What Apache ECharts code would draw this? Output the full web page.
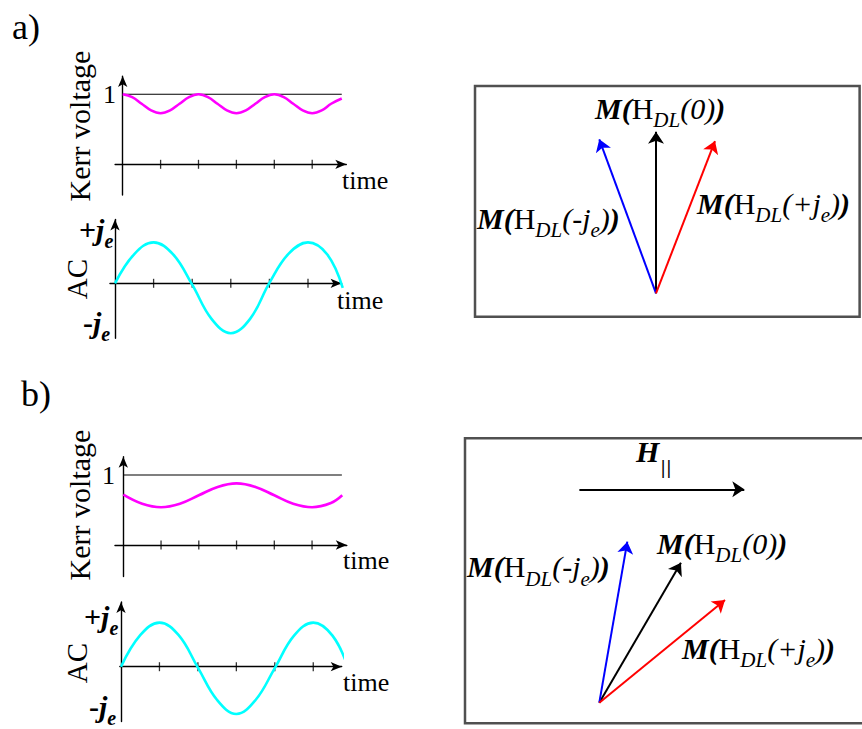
<!DOCTYPE html>
<html><head><meta charset="utf-8">
<script src="https://cdn.jsdelivr.net/npm/echarts@6/dist/echarts.min.js"></script>
<style>html,body{margin:0;padding:0;background:#fff}#c{width:862px;height:729px}</style>
</head><body><div id="c"></div>
<script>
// ---------------- data ----------------
// panel a) Kerr voltage (time in tick units, value normalised to the "1" line)
const kerrATime  = [0, 0.25, 0.5, 0.75, 1, 1.25, 1.5, 1.75, 2, 2.25, 2.5, 2.75, 3, 3.25, 3.5, 3.75, 4, 4.25, 4.5, 4.75, 5, 5.25, 5.5, 5.78];
const kerrAValue = [1.0, 0.96, 0.865, 0.77, 0.73, 0.77, 0.865, 0.96, 1.0, 0.96, 0.865, 0.77, 0.73, 0.77, 0.865, 0.96, 1.0, 0.96, 0.865, 0.77, 0.73, 0.77, 0.865, 0.94];
// panel a) AC current (units of j_e)
const acATime  = [0, 0.5, 1, 1.5, 2, 2.5, 3, 3.5, 4, 4.5, 5, 5.5, 5.9];
const acAValue = [0, 0.65, 0.91, 0.65, -0.03, -0.79, -1.11, -0.79, 0.01, 0.66, 0.91, 0.64, -0.1];
// panel b) Kerr voltage
const kerrBTime  = [0, 0.5, 1, 1.5, 2, 2.5, 3, 3.5, 4, 4.5, 5, 5.5, 5.8];
const kerrBValue = [0.72, 0.59, 0.54, 0.59, 0.71, 0.83, 0.88, 0.83, 0.71, 0.59, 0.54, 0.6, 0.71];
// panel b) AC current
const acBTime  = [0, 0.5, 1, 1.5, 2, 2.5, 3, 3.5, 4, 4.5, 5, 5.5, 5.91];
const acBValue = [0, 0.7, 0.98, 0.7, -0.02, -0.74, -1.05, -0.74, -0.03, 0.69, 0.98, 0.69, -0.03];
// time-axis ticks and the reference level "1"
const timeTicks = [1, 2, 3, 4, 5];
const refLevel = 1;
const refEndA = 5.78;
const refEndB = 5.79;
// magnetisation vectors (unit length = |M|), tail at the origin
const vecANames = ['M(H_DL(0))', 'M(H_DL(-j_e))', 'M(H_DL(+j_e))'];
const vecATips  = [[0, 1.0], [-0.351, 0.953], [0.365, 0.942]];
const vecBNames = ['M(H_DL(0))', 'M(H_DL(-j_e))', 'M(H_DL(+j_e))'];
const vecBTips  = [[0.504, 0.864], [0.173, 0.994], [0.776, 0.634]];
const fieldB    = [[-0.123, 1.317], [0.895, 1.317]];
// text
const yTitleKerr = 'Kerr voltage';
const yTitleAC = 'AC';
const xTitle = 'time';
const levelLabel = '1';

// ---------------- chart ----------------
const SERIF = "'Liberation Serif', 'Times New Roman', serif";
const SANS = "'DejaVu Sans', sans-serif";
const chart = echarts.init(document.getElementById('c'), null, {renderer: 'svg'});
const zip = (t, v) => t.map((x, i) => [x, v[i]]);

function gridFor(ox, oy, ux, uy, xr, yr, extra) {
  return Object.assign({
    left: ox + xr[0] * ux, top: oy - yr[1] * uy,
    width: (xr[1] - xr[0]) * ux, height: (yr[1] - yr[0]) * uy,
    containLabel: false, outerBoundsMode: 'none'
  }, extra || {});
}
const panels = [
  {o: [122.7, 164.3], u: [37.9, 70], x: [-0.2, 5.9], y: [-0.44, 1.26]},   // a Kerr
  {o: [115, 283.3], u: [38.6, 45], x: [-0.13, 5.87], y: [-1.22, 1.42]},   // a AC
  {o: [123.3, 545], u: [37.75, 70], x: [-0.22, 5.92], y: [-0.45, 1.26]},  // b Kerr
  {o: [121, 666.7], u: [38.45, 45], x: [-0.03, 5.74], y: [-1.22, 1.44]}   // b AC
];
const grids = panels.map(p => gridFor(p.o[0], p.o[1], p.u[0], p.u[1], p.x, p.y));
grids.push(gridFor(656, 293.3, 161.6, 161.6, [-1.12, 1.26], [-0.145, 1.283],
  {show: true, borderColor: '#505050', borderWidth: 2.5, backgroundColor: 'transparent'}));
grids.push(gridFor(599.3, 702.7, 162, 162, [-0.829, 1.66], [-0.127, 1.632],
  {show: true, borderColor: '#505050', borderWidth: 2.5, backgroundColor: 'transparent'}));

const axLine = {show: true, onZero: true, symbol: ['none', 'arrow'], symbolSize: [7, 11], lineStyle: {color: '#000', width: 1.4}};
const xAxes = [], yAxes = [];
panels.forEach((p, i) => {
  xAxes.push({type: 'value', gridIndex: i, min: p.x[0], max: p.x[1], axisLine: axLine,
    axisTick: {show: false}, axisLabel: {show: false}, splitLine: {show: false}});
  yAxes.push({type: 'value', gridIndex: i, min: p.y[0], max: p.y[1], axisLine: axLine,
    axisTick: {show: false}, axisLabel: {show: false}, splitLine: {show: false}});
});
[[[-1.12, 1.26], [-0.145, 1.283]], [[-0.829, 1.66], [-0.127, 1.632]]].forEach((r, k) => {
  xAxes.push({type: 'value', gridIndex: 4 + k, min: r[0][0], max: r[0][1], show: false});
  yAxes.push({type: 'value', gridIndex: 4 + k, min: r[1][0], max: r[1][1], show: false});
});

function curve(i, t, v, color) {
  return {type: 'line', xAxisIndex: i, yAxisIndex: i, data: zip(t, v), smooth: 0.4, showSymbol: false,
    clip: false, lineStyle: {color: color, width: 2.6}, z: 5, silent: true};
}
function refLine(i, end) {
  return {type: 'line', xAxisIndex: i, yAxisIndex: i, data: [[0, refLevel], [end, refLevel]], showSymbol: false,
    lineStyle: {color: '#000', width: 1.1}, z: 3, silent: true};
}
function ticks(i) {
  return {type: 'scatter', xAxisIndex: i, yAxisIndex: i, data: timeTicks.map(t => [t, 0]), symbol: 'rect',
    symbolSize: [1.3, 9], itemStyle: {color: '#000'}, z: 4, silent: true};
}
const vecColors = ['#000000', '#0000ff', '#ff0000'];
function vectors(i, tips) {
  return {type: 'lines', coordinateSystem: 'cartesian2d', xAxisIndex: i, yAxisIndex: i,
    symbol: ['none', 'arrow'], symbolSize: 12, silent: true, z: 6,
    data: tips.map((tp, k) => ({coords: [[0, 0], tp], lineStyle: {color: vecColors[k], width: 2, opacity: 1}}))};
}

const series = [
  refLine(0, refEndA), curve(0, kerrATime, kerrAValue, '#ff00ff'), ticks(0),
  curve(1, acATime, acAValue, '#00ffff'), ticks(1),
  refLine(2, refEndB), curve(2, kerrBTime, kerrBValue, '#ff00ff'), ticks(2),
  curve(3, acBTime, acBValue, '#00ffff'), ticks(3),
  vectors(4, vecATips),
  vectors(5, vecBTips),
  {type: 'lines', coordinateSystem: 'cartesian2d', xAxisIndex: 5, yAxisIndex: 5, symbol: ['none', 'arrow'],
   symbolSize: 12, silent: true, z: 6, data: [{coords: fieldB, lineStyle: {color: '#000', width: 2, opacity: 1}}]}
];

// ---------------- text ----------------
const KMID = 0.3375; // central baseline offset (em) for Liberation Serif
function plain(txt, x, y, fs, opts) {
  return Object.assign({type: 'text', x: x, y: y, z: 10, silent: true,
    style: Object.assign({text: txt, fontSize: fs, fontFamily: SERIF, fill: '#000', align: 'left', verticalAlign: 'middle'}, (opts && opts.style) || {})},
    opts && opts.rotation ? {rotation: opts.rotation} : {});
}
const measCtx = document.createElement('canvas').getContext('2d');
// pieces laid out left to right on a common baseline, each with its own font and vertical drop
function composite(x, baseline, pieces) {
  let cx = x;
  const out = [];
  pieces.forEach(p => {
    const fam = p.family || SERIF;
    const st = p.italic ? 'italic' : 'normal';
    const wt = p.bold ? 'bold' : 'normal';
    measCtx.font = st + ' ' + wt + ' ' + p.fs + 'px ' + fam;
    const w = measCtx.measureText(p.text).width;
    const k = p.family === SANS ? 0.346 : KMID;
    out.push({type: 'text', x: cx, y: baseline + (p.dy || 0) - k * p.fs, z: 10, silent: true,
      style: {text: p.text, fontSize: p.fs, fontFamily: fam, fontStyle: st, fontWeight: wt, fill: '#000',
              align: 'left', verticalAlign: 'middle'}});
    cx += w + (p.gap || 0);
  });
  return out;
}
const FS = 30, SFS = 21, DROP = 9;
function mPieces(name) {
  const inner = name.slice(name.indexOf('_DL') + 3, name.length - 1); // "(0)" or "(+j_e)"
  const parts = inner.split('_e');
  const ps = [
    {text: 'M(', fs: FS, bold: true, italic: true},
    {text: 'H', fs: FS},
    {text: 'DL', fs: SFS, italic: true, dy: DROP}
  ];
  if (parts.length === 2) {
    ps.push({text: parts[0], fs: FS, italic: true});
    ps.push({text: 'e', fs: SFS, italic: true, dy: DROP});
    ps.push({text: parts[1], fs: FS, italic: true});
  } else {
    ps.push({text: inner, fs: FS, italic: true});
  }
  ps.push({text: ')', fs: FS, bold: true, italic: true});
  return ps;
}
function jPieces(sign) {
  return [
    {text: sign, fs: 30, bold: true},
    {text: 'j', fs: 30, bold: true, italic: true},
    {text: 'e', fs: 20, bold: true, italic: true, dy: 8}
  ];
}
const ROT = Math.PI / 2;
let graphics = [
  plain('a)', 12, 27, 36),
  plain('b)', 21, 394, 36),
  plain(yTitleKerr, 79, 126, 30, {rotation: ROT, style: {align: 'center'}}),
  plain(yTitleKerr, 79, 505, 30, {rotation: ROT, style: {align: 'center'}}),
  plain(yTitleAC, 77, 279, 29, {rotation: ROT, style: {align: 'center'}}),
  plain(yTitleAC, 77, 663, 29, {rotation: ROT, style: {align: 'center'}}),
  plain(levelLabel, 116, 94, 26, {style: {align: 'right'}}),
  plain(levelLabel, 115, 475, 26, {style: {align: 'right'}}),
  plain(xTitle, 342, 180, 26),
  plain(xTitle, 337, 300, 26),
  plain(xTitle, 343, 560, 26),
  plain(xTitle, 343, 682, 26)
];
graphics = graphics
  .concat(composite(79, 240, jPieces('+')))
  .concat(composite(83, 333, jPieces('-')))
  .concat(composite(84, 626.5, jPieces('+')))
  .concat(composite(89, 716.5, jPieces('-')))
  .concat(composite(595, 118.5, mPieces(vecANames[0])))
  .concat(composite(477, 228.5, mPieces(vecANames[1])))
  .concat(composite(697, 213.5, mPieces(vecANames[2])))
  .concat(composite(657, 553.5, mPieces(vecBNames[0])))
  .concat(composite(467, 577, mPieces(vecBNames[1])))
  .concat(composite(682, 658.5, mPieces(vecBNames[2])))
  .concat(composite(636, 462, [
    {text: 'H', fs: 30, bold: true, italic: true, gap: 1},
    {text: '||', fs: 17, family: SANS, dy: 12}
  ]));

chart.setOption({
  backgroundColor: '#ffffff',
  animation: false,
  grid: grids,
  xAxis: xAxes,
  yAxis: yAxes,
  series: series,
  graphic: graphics
});
</script></body></html>
